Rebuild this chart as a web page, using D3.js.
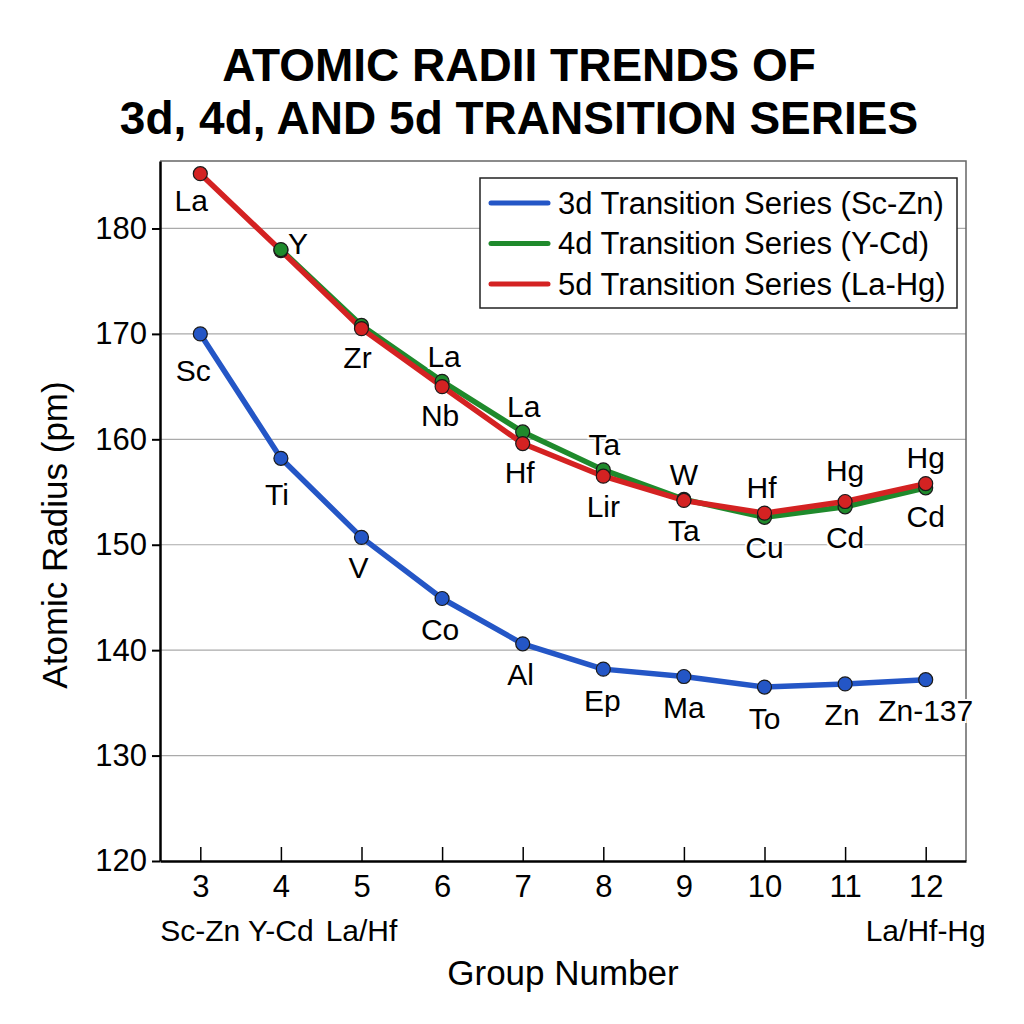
<!DOCTYPE html>
<html>
<head>
<meta charset="utf-8">
<script src="https://cdn.jsdelivr.net/npm/d3@7"></script>
<style>
  html, body { margin: 0; padding: 0; background: #fff; }
  svg { display: block; font-family: "Liberation Sans", Arial, Helvetica, sans-serif; }
</style>
</head>
<body>
<svg id="chart" width="1024" height="1024"></svg>
<script>
// ---------------- data ----------------
const groups = [3, 4, 5, 6, 7, 8, 9, 10, 11, 12];
const radius3d = [170.0, 158.2, 150.7, 144.9, 140.6, 138.2, 137.5, 136.5, 136.8, 137.2];
const radius4d = [null, 178.0, 170.8, 165.5, 160.7, 157.1, 154.3, 152.6, 153.6, 155.4];
const radius5d = [185.2, 177.9, 170.5, 165.0, 159.6, 156.5, 154.2, 153.0, 154.1, 155.8];
const labels3d = ["Sc", "Ti", "V", "Co", "Al", "Ep", "Ma", "To", "Zn", "Zn-137"];
const labels4d = [null, "Y", null, "La", "La", "Ta", "W", "Cu", "Cd", "Cd"];
const labels5d = ["La", null, "Zr", "Nb", "Hf", "Lir", "Ta", "Hf", "Hg", "Hg"];
const seriesNames = ["3d Transition Series (Sc-Zn)", "4d Transition Series (Y-Cd)", "5d Transition Series (La-Hg)"];
const yTicks = [120, 130, 140, 150, 160, 170, 180];
const groupSubLabels = ["Sc-Zn", "Y-Cd", "La/Hf", null, null, null, null, null, null, "La/Hf-Hg"];
const titleLines = ["ATOMIC RADII TRENDS OF", "3d, 4d, AND 5d TRANSITION SERIES"];
const xTitle = "Group Number";
const yTitle = "Atomic Radius (pm)";

// ---------------- style (label offsets in px) ----------------
const off3d = [[-7, 37], [-4, 36], [-3, 30], [-2, 31], [-2, 31], [-1, 31], [0, 31], [0, 31], [-3, 31], [0, 31]];
const off4d = [null, [17, -6], null, [2, -25], [1, -25], [1, -25], [0, -25], [0, 30], [0, 31], [0, 29]];
const off5d = [[-9, 27], null, [-4, 29], [-2, 29], [-3, 29], [0, 30], [0, 30], [-3, -26], [0, -31], [0, -26]];
const colors = ["#2456c6", "#1f8a2c", "#d42222"];

const svg = d3.select("#chart");
const M = { left: 160, right: 966, top: 161, bottom: 861 };
const x = d3.scaleLinear().domain([2.5, 12.5]).range([M.left, M.right]);
const y = d3.scaleLinear().domain([120, 186.4]).range([M.bottom, M.top]);

// title
svg.append("g").selectAll("text").data(titleLines).join("text")
  .attr("x", 519).attr("y", (d, i) => 81 + i * 53)
  .attr("text-anchor", "middle").attr("font-size", 46).attr("font-weight", "bold")
  .attr("fill", "#000").text(d => d);

// gridlines
svg.append("g").selectAll("line").data(yTicks.filter(t => t > 120)).join("line")
  .attr("x1", M.left).attr("x2", M.right)
  .attr("y1", d => y(d)).attr("y2", d => y(d))
  .attr("stroke", "#aaaaaa").attr("stroke-width", 1.2);

// frame top/right
svg.append("path")
  .attr("d", `M${M.left},${M.top}H${M.right}V${M.bottom}`)
  .attr("fill", "none").attr("stroke", "#666").attr("stroke-width", 1.5);

// axes
const yAxis = svg.append("g").attr("transform", `translate(${M.left},0)`)
  .call(d3.axisLeft(y).tickValues(yTicks).tickSize(8).tickPadding(5).tickSizeOuter(0));
yAxis.select(".domain").attr("stroke", "#000").attr("stroke-width", 2.5);
yAxis.selectAll(".tick line").attr("stroke", "#000").attr("stroke-width", 2);
yAxis.selectAll(".tick text").attr("font-size", 31).attr("fill", "#000")
  .attr("font-family", "Liberation Sans, Arial, sans-serif");

const xAxis = svg.append("g").attr("transform", `translate(0,${M.bottom})`)
  .call(d3.axisBottom(x).tickValues(groups).tickSize(-14).tickPadding(14).tickSizeOuter(0));
xAxis.select(".domain").attr("stroke", "#000").attr("stroke-width", 2.5);
xAxis.selectAll(".tick line").attr("stroke", "#000").attr("stroke-width", 1.5);
xAxis.selectAll(".tick text").attr("font-size", 31).attr("fill", "#000")
  .attr("font-family", "Liberation Sans, Arial, sans-serif");

// group sub labels
svg.append("g").selectAll("text").data(groups.map((g, i) => ({ g, t: groupSubLabels[i] })).filter(d => d.t))
  .join("text")
  .attr("x", d => x(d.g)).attr("y", 941)
  .attr("text-anchor", "middle").attr("font-size", 30).attr("fill", "#000")
  .text(d => d.t);

// axis titles
svg.append("text").attr("x", 563).attr("y", 985).attr("text-anchor", "middle")
  .attr("font-size", 35).attr("fill", "#000").text(xTitle);
svg.append("text").attr("transform", "translate(67,535) rotate(-90)").attr("text-anchor", "middle")
  .attr("font-size", 35).attr("fill", "#000").text(yTitle);

// lines
const allSeries = [radius3d, radius4d, radius5d];
const lineGen = d3.line().defined(d => d.v != null).x(d => x(d.g)).y(d => y(d.v));
const seriesPts = allSeries.map(arr => groups.map((g, i) => ({ g, v: arr[i], i })));
seriesPts.forEach((pts, s) => {
  svg.append("path").datum(pts).attr("d", lineGen)
    .attr("fill", "none").attr("stroke", colors[s]).attr("stroke-width", 5.5)
    .attr("stroke-linejoin", "round").attr("stroke-linecap", "round");
});

// markers (green marker at group 4 drawn on top)
function drawMarkers(pts, s) {
  svg.append("g").selectAll("circle").data(pts.filter(d => d.v != null)).join("circle")
    .attr("cx", d => x(d.g)).attr("cy", d => y(d.v)).attr("r", 7)
    .attr("fill", colors[s]).attr("stroke", "#1a1a1a").attr("stroke-width", 1.2);
}
drawMarkers(seriesPts[0], 0);
drawMarkers(seriesPts[1].filter(d => d.g !== 4), 1);
drawMarkers(seriesPts[2], 2);
drawMarkers(seriesPts[1].filter(d => d.g === 4), 1);

// point labels
const allLabels = [labels3d, labels4d, labels5d];
const allOffs = [off3d, off4d, off5d];
allSeries.forEach((arr, s) => {
  const items = groups.map((g, i) => ({ g, v: arr[i], t: allLabels[s][i], o: allOffs[s][i] }))
    .filter(d => d.t && d.v != null);
  svg.append("g").selectAll("text").data(items).join("text")
    .attr("x", d => x(d.g) + d.o[0]).attr("y", d => y(d.v) + d.o[1])
    .attr("dominant-baseline", "central").attr("text-anchor", "middle")
    .attr("font-size", 30).attr("fill", "#000")
    .attr("stroke", "#fff").attr("stroke-width", 4).attr("paint-order", "stroke")
    .text(d => d.t);
});

// legend
const lg = svg.append("g");
lg.append("rect").attr("x", 480).attr("y", 178).attr("width", 477).attr("height", 130)
  .attr("fill", "#fff").attr("stroke", "#222").attr("stroke-width", 1.5);
seriesNames.forEach((name, i) => {
  const yy = 203 + i * 40.5;
  lg.append("line").attr("x1", 491).attr("x2", 548).attr("y1", yy).attr("y2", yy)
    .attr("stroke", colors[i]).attr("stroke-width", 5).attr("stroke-linecap", "round");
  lg.append("text").attr("x", 558).attr("y", yy).attr("dominant-baseline", "central")
    .attr("font-size", 31).attr("fill", "#000").text(name);
});
</script>
</body>
</html>
